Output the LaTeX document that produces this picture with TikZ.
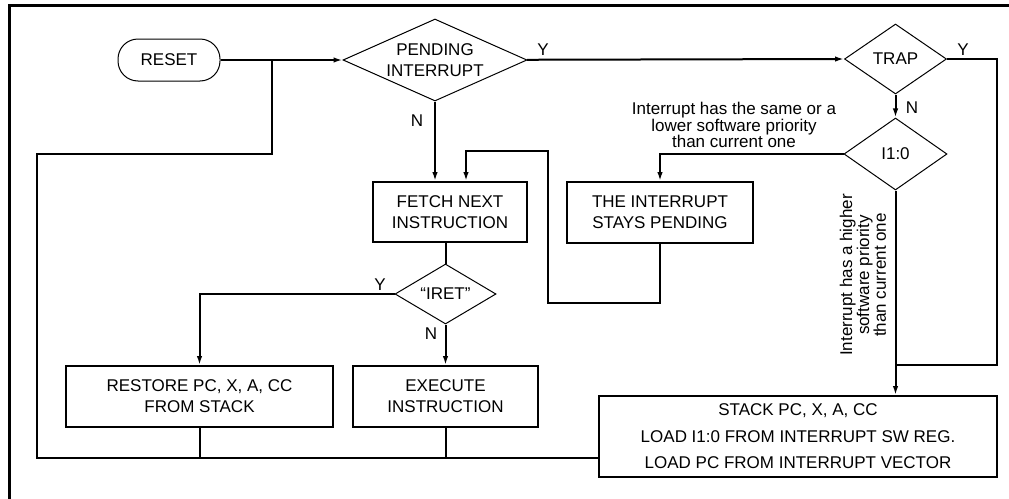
\documentclass[tikz,border=0pt]{standalone}
\usepackage{fontspec}
\setmainfont{Liberation Sans}
\usetikzlibrary{shapes.geometric,arrows.meta}

\begin{document}
\begin{tikzpicture}[x=1pt,y=-1pt,>={Latex[length=9pt,width=5.5pt]},
  box/.style={draw,line width=2pt,align=center,inner sep=0pt,font=\fontsize{17}{21}\selectfont},
  test/.style={draw,diamond,line width=1pt,align=center,inner sep=0pt,font=\fontsize{17}{21}\selectfont},
  link/.style={line width=2pt},
  tag/.style={inner sep=0pt,font=\fontsize{17}{17}\selectfont},
  note/.style={align=center,inner sep=0pt,font=\fontsize{17}{14}\selectfont}]

\clip (0,0) rectangle (1009,498);

% Outer frame (only top and left edges show)
\draw[line width=3pt] (9.5,520) -- (9.5,5.5) -- (1030,5.5);

% Start and decisions
\node[draw,line width=1pt,rounded corners=20pt,minimum width=102pt,minimum height=42pt,inner sep=0pt,font=\fontsize{17}{21}\selectfont] (reset) at (169,60) {RESET};
\node[test,shape aspect=2.24,minimum width=184pt,minimum height=82pt] (pending) at (435,60) {PENDING\\INTERRUPT};
\node[test,shape aspect=1.46,minimum width=102pt,minimum height=70pt] (trap) at (895.5,59) {TRAP};
\node[test,shape aspect=1.43,minimum width=103pt,minimum height=72pt] (prio) at (895.5,154) {I1:0};
\node[test,shape aspect=1.68,minimum width=101pt,minimum height=60pt] (iret) at (445.5,294) {``IRET''};

% Process boxes
\node[box,minimum width=154pt,minimum height=60pt] (fetch) at (450,212) {FETCH NEXT\\INSTRUCTION};
\node[box,minimum width=186pt,minimum height=61pt] (stays) at (660,212.5) {THE INTERRUPT\\STAYS PENDING};
\node[box,minimum width=267pt,minimum height=61pt] (restore) at (199.5,396.5) {RESTORE PC, X, A, CC\\FROM STACK};
\node[box,minimum width=185pt,minimum height=61pt] (execute) at (445.5,396.5) {EXECUTE\\INSTRUCTION};
\node[box,minimum width=398pt,minimum height=81pt,font=\fontsize{17}{26.5}\selectfont] (stack) at (798,436.5) {STACK PC, X, A, CC\\LOAD I1:0 FROM INTERRUPT SW REG.\\LOAD PC FROM INTERRUPT VECTOR};

% Bends of the return paths
\coordinate (rjoin) at (272,60);
\coordinate (lbot) at (37,458);
\coordinate (ltop) at (37,154);
\coordinate (trapR) at (997,365);
\coordinate (stayR) at (548,303);
\coordinate (fetchIn) at (466,151);

% Connectors
\draw[link,->] (reset) -- (pending);
\draw[link,->] (pending) -- (trap.west);
\draw[link,->] (pending.south) -- (pending.south |- fetch.north);
\draw[link,->] (trap) -- (prio);
\draw[link] (trap.east) -| (trapR) -- (trapR -| prio.south);
\draw[link,->] (prio.west) -| (stays.north);
\draw[link,->] (prio.south) -- (prio.south |- stack.north);
\draw[link,->] (stays.south) |- (stayR) |- (fetchIn) -- (fetchIn |- fetch.north);
\draw[link] (fetch.south -| iret.north) -- (iret.north);
\draw[link,->] (iret.west) -| (restore.north);
\draw[link,->] (iret.south) -- (execute.north);
\draw[link] (restore.south) -- (restore.south |- lbot);
\draw[link] (execute.south) -- (execute.south |- lbot);
\draw[link] (stack.west |- lbot) -- (lbot) -- (ltop) -| (rjoin);

% Branch labels
\node[tag] (pendY) at (543,50) {Y};
\node[tag] (pendN) at (417,121) {N};
\node[tag] (trapY) at (963,50) {Y};
\node[tag] (trapN) at (912,108) {N};
\node[tag] (iretY) at (380,285) {Y};
\node[tag] (iretN) at (431,334) {N};
\node[note] (lowNote) at (734,125) {Interrupt has the same or a\\lower software priority\\than current one};
\node[note,rotate=90] (highNote) at (863,275) {Interrupt has a higher\\software priority\\than current one};

\end{tikzpicture}
\end{document}
